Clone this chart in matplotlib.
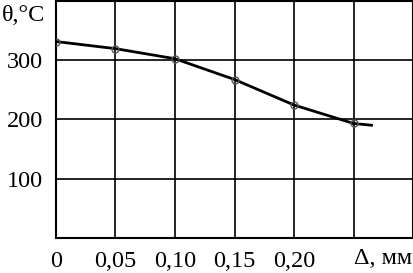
import matplotlib
matplotlib.use('Agg')
import matplotlib.pyplot as plt

# data
delta = [0.0, 0.05, 0.10, 0.15, 0.20, 0.25]
theta = [331, 319, 302, 267, 224, 193]
# tail of the curve past the last measured point
tail_x = [0.25, 0.265]
tail_y = [193, 190]

xticks = [0, 0.05, 0.10, 0.15, 0.20, 0.25, 0.30]
xticklabels = ['0', '0,05', '0,10', '0,15', '0,20', '', '']
yticks = [0, 100, 200, 300, 400]
yticklabels = ['', '100', '200', '300', '']

plt.rcParams['font.family'] = ['Liberation Serif', 'DejaVu Serif']

fig = plt.figure(figsize=(4.14, 2.73), dpi=100)
ax = fig.add_axes([0.135, 0.128, 0.863, 0.870])

ax.plot(delta, theta, color='black', lw=2.0, zorder=3)
ax.plot(tail_x, tail_y, color='black', lw=2.0, zorder=3)
ax.plot(delta, theta, 'o', ms=5, mfc='none', mec='#555555', mew=1.0, zorder=4)

ax.set_xlim(0, 0.30)
ax.set_ylim(0, 400)
ax.set_xticks(xticks)
ax.set_xticklabels(xticklabels)
ax.set_yticks(yticks)
ax.set_yticklabels(yticklabels)
ax.tick_params(length=0, labelsize=17.5, pad=9)
ax.tick_params(axis='y', pad=9)
ax.grid(True, color='black', lw=1.2)
for s in ax.spines.values():
    s.set_linewidth(1.5)
    s.set_color('black')

fig.text(0.109, 0.945, 'θ,°C', ha='right', va='center', fontsize=17.5)
ax.text(0.25, -0.085, 'Δ, мм', transform=ax.get_xaxis_transform(),
        ha='left', va='center', fontsize=17.5)

plt.savefig('out.png', dpi=100)
